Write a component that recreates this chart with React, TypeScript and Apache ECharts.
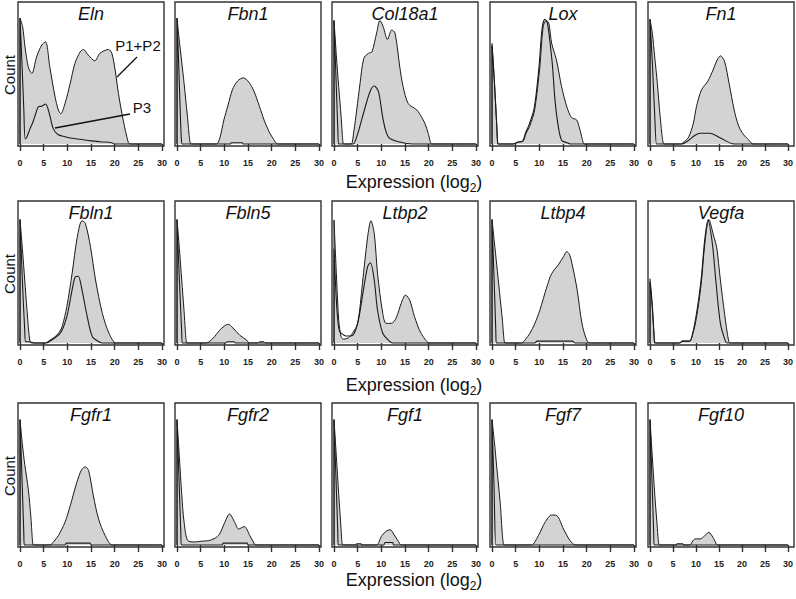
import React, { useEffect, useRef } from "react";
import * as echarts from "echarts";

const FONT = "'Liberation Sans', Arial, Helvetica, sans-serif";

const genes = ["Eln", "Fbn1", "Col18a1", "Lox", "Fn1", "Fbln1", "Fbln5", "Ltbp2", "Ltbp4", "Vegfa", "Fgfr1", "Fgfr2", "Fgf1", "Fgf7", "Fgf10"];
const xTicks = [0, 5, 10, 15, 20, 25, 30];
const xLabel = "Expression (log2)";
const yLabel = "Count";
const legendP12 = "P1+P2";
const legendP3 = "P3";

// [expression (log2), relative count] — P1+P2 (filled) and P3 (outline)
const elnP12 = [[0,0],[0,100],[0.56,93],[1.06,77],[1.76,61],[2.5,56],[3.5,69],[4.6,78.6],[5.4,81],[6.3,61],[7.4,37.5],[8.1,27],[8.6,24],[9.5,32],[10.6,48],[11.6,64],[12.7,73],[13.4,75],[14.4,70.6],[15.8,66],[16.9,72],[18.7,75],[19.4,72],[20.1,58.7],[20.8,40],[21.8,19],[22.9,1],[23.3,0],[23.6,0],[30,0]];
const elnP3 = [[0,0],[0,100],[0.4,65],[0.8,28],[1.1,4],[1.5,6],[2.1,12],[2.7,17],[3.4,25],[3.9,29.6],[4.6,30],[5.4,31.7],[6.2,24],[7.0,12.4],[8.0,7.5],[9.5,5.8],[11,4.5],[12.7,3.7],[15,2.5],[16.9,1.8],[19.4,1],[20,0],[20.3,0],[30,0]];

const fbn1P12 = [[0,0],[0,100],[0.4,85],[1.0,65],[1.5,48],[2.2,22],[2.9,0],[3.1,0],[8.2,0],[8.4,0],[9.0,4],[9.9,19],[10.8,31],[11.7,43],[12.8,50],[14.0,52.5],[15.2,49],[16.3,41.5],[17.4,30],[18.4,19],[19.3,11],[20.1,5.5],[21.3,0],[21.5,0],[30,0]];
const fbn1P3 = [[0,0],[0,100],[0.3,70],[0.6,35],[0.9,5],[1.1,0],[1.3,0],[11.3,0],[11.5,1],[13.8,1],[14,0],[30,0]];

const col18a1P12 = [[0,0],[0,98],[0.5,70],[1.0,45],[1.5,22],[2.0,0],[2.2,0],[3.5,0],[3.7,0],[4.2,10],[4.8,27],[5.5,48],[6.3,68],[7.3,72],[8.0,73],[9.0,88],[9.7,98],[10.4,93],[11.3,83],[12.2,90.5],[12.9,88],[13.9,61],[14.6,45.5],[15.7,32],[17.5,27],[18.4,22],[19.2,16.4],[19.9,8.5],[20.6,0],[20.8,0],[30,0]];
const col18a1P3 = [[0,0],[0,98],[0.4,55],[0.8,12],[0.95,0],[1.1,0],[3.9,0],[4.1,0],[5.0,8],[6.2,24],[7.6,41.5],[8.5,46],[9.4,41.5],[10.4,19],[11.5,5.5],[13.9,1.5],[16.7,0],[17,0],[30,0]];

const loxP12 = [[0,0],[0,78],[0.5,50],[1.0,15],[1.3,0],[1.5,0],[4.2,0],[4.4,0],[5.5,1.5],[6.5,2],[7.2,8.5],[7.95,14],[9.0,27],[10.1,61],[10.8,93],[11.5,98],[12.0,96],[12.6,80],[13.6,67],[14.7,45.5],[15.8,29.6],[16.8,21],[17.9,19],[18.6,11],[19.5,0],[19.7,0],[30,0]];
const loxP3 = [[0,0],[0,80],[0.5,50],[1.0,15],[1.2,0],[1.4,0],[4.2,0],[4.4,0],[5.5,1.5],[6.5,2.5],[7.1,9],[7.8,15],[8.9,28],[9.9,60],[10.6,92],[11.2,99],[11.7,96],[12.2,82.5],[12.8,61],[13.3,35],[14.0,14],[14.7,3],[15.8,1],[16.5,0],[16.8,0],[30,0]];

const fn1P12 = [[0,0],[0,99],[0.5,88],[1.0,70],[1.6,48],[2.2,22],[3.0,0],[3.2,0],[6.4,0],[6.6,0],[7.5,2],[8.4,5.5],[9.4,16],[10.1,29.6],[11.2,43],[12.6,50],[13.7,58.7],[14.6,66.7],[15.3,70],[16.2,65.6],[17.2,48],[18.3,27],[19.2,15],[20.1,8.5],[21.5,3],[22.4,0],[22.6,0],[30,0]];
const fn1P3 = [[0,0],[0,99],[0.5,65],[1.0,25],[1.4,0],[1.6,0],[6.7,0],[6.9,0],[8.4,3],[9.8,7],[10.9,8.5],[13.0,8.5],[15.4,4.5],[18.3,0],[18.5,0],[30,0]];

const fbln1P12 = [[0,0],[0,98],[0.5,75],[1.0,50],[1.5,25],[2.1,1],[2.5,0],[2.7,0],[5.1,0],[5.3,0],[6.4,2.4],[7.4,5],[8.2,8],[8.9,13],[9.9,29],[11,55],[12.1,84],[13.1,97],[13.8,95],[14.9,76],[15.96,50],[17.4,23.5],[18.8,7.7],[20.2,0],[20.4,0],[30,0]];
const fbln1P3 = [[0,0],[0,98],[0.5,50],[1.0,10],[1.2,1],[2.0,1],[3.0,0],[3.2,0],[5.3,0],[5.5,0],[6.7,2.4],[8.5,7.7],[9.9,21],[11,42],[11.7,52.6],[12.3,53],[13.1,42],[14.2,21],[15.3,5],[16.7,1],[17.5,0],[17.7,0],[30,0]];

const fbln5P12 = [[0,0],[0,98],[0.5,75],[1.0,50],[1.5,25],[2.05,0],[2.2,0],[6.0,0],[6.2,0],[7.6,3.7],[9.0,10],[10.0,13.5],[10.8,14.8],[11.8,12],[13.3,6],[14.7,2.4],[15.3,0],[17.0,0],[17.5,1],[18.3,1],[18.6,0],[30,0]];
const fbln5P3 = [[0,0],[0,98],[0.5,50],[1.0,8],[1.1,0],[1.3,0],[10.2,0],[10.6,1],[12.0,1],[12.4,0],[30,0]];

const ltbp2P12 = [[0,0],[0,97.6],[0.5,55],[1.0,18],[1.5,5],[2.0,3],[3.0,4],[3.9,7.7],[5.0,15.6],[6.0,47],[7.1,84],[7.8,97],[8.5,87],[9.2,55],[10.3,23.5],[11.0,15.6],[12.1,15.6],[13.1,19.6],[14.2,31.5],[15.1,38],[16.0,34],[17.0,21],[18.4,7.7],[20.2,0],[20.4,0],[30,0]];
const ltbp2P3 = [[0,0],[0,75],[0.4,40],[0.8,18],[1.2,9],[2.0,6.5],[2.5,5.5],[3.9,6],[5.0,15.6],[6.0,37],[7.1,60.6],[7.7,63.7],[8.5,50],[9.2,26],[10.3,7.7],[11.7,1.5],[12.4,0],[12.6,0],[30,0]];

const ltbp4P12 = [[0,0],[0,98],[0.5,80],[1.0,62],[1.6,40],[2.2,18],[2.7,0],[2.9,0],[6.05,0],[6.25,0],[7.0,2.5],[8.0,7.7],[9.0,15],[10.1,26],[11.6,44.7],[12.6,55],[14.0,62],[15.1,68.5],[15.8,72.5],[16.4,70],[16.9,63],[18.0,42],[19.0,15.6],[20.1,1.5],[20.8,0],[21,0],[30,0]];
const ltbp4P3 = [[0,0],[0,98],[0.4,55],[0.8,10],[0.9,0],[1.1,0],[9.0,0],[9.5,1.5],[17.0,1.5],[17.5,0],[30,0]];

const vegfaP12 = [[0,0],[0,48],[0.5,28],[0.9,5],[1.1,0],[1.3,0],[6.3,0],[6.5,0],[7,1.5],[8.4,1.5],[8.9,2.4],[10,18],[11.1,46],[11.9,78],[12.8,98],[13.9,84],[14.5,76],[15.3,50],[16.2,23.5],[17.1,1.5],[17.5,0],[17.7,0],[30,0]];
const vegfaP3 = [[0,0],[0,51],[0.5,30],[0.9,5],[1.0,0],[1.2,0],[6.3,0],[6.5,0],[7,1.5],[8.4,1.5],[8.9,2.4],[10,21],[11.1,50],[11.9,82],[12.6,97.6],[13.55,79],[14.3,50],[15.3,15.6],[16.4,1.5],[16.8,0],[17,0],[30,0]];

const fgfr1P12 = [[0,0],[0,99.5],[0.5,80],[1.0,64],[1.76,44],[2.3,22],[2.8,0],[3.0,0],[6.15,0],[6.35,0],[7.2,3],[8.1,7.4],[9.5,18],[10.6,31],[12,49.7],[13.05,60],[13.8,62],[14.5,59],[15.5,39],[16.6,20.6],[18,7.4],[19.4,0],[19.6,0],[30,0]];
const fgfr1P3 = [[0,0],[0,99.5],[0.4,55],[0.8,10],[0.9,0],[1.1,0],[9.5,0],[9.8,1.5],[14.8,1.5],[15,0],[30,0]];

const fgfr2P12 = [[0,0],[0,99.5],[0.5,70],[1.0,40],[1.5,18],[2.3,3.4],[3.8,2.4],[5.1,3],[6.6,3.4],[8,5.3],[9,8.7],[10.1,18],[11.1,24.6],[12.2,18],[13,12.7],[14.2,14.6],[15.4,7.4],[16.4,0.5],[16.6,0],[16.8,0],[30,0]];
const fgfr2P3 = [[0,0],[0,99.5],[0.4,55],[0.8,10],[0.9,0],[1.1,0],[9.5,0],[9.8,1.5],[14.8,1.5],[15,0],[30,0]];

const fgf1P12 = [[0,0],[0,99.5],[0.5,70],[1.0,40],[1.4,18],[1.8,0],[2.0,0],[8.85,0],[9.05,0],[10.1,7.4],[11.2,11.4],[11.9,12],[12.6,8.7],[13.5,3.4],[14.2,0],[14.4,0],[30,0]];
const fgf1P3 = [[0,0],[0,99.5],[0.4,55],[0.8,10],[0.9,0],[1.1,0],[4.6,0],[4.8,1],[5.7,1],[5.9,0],[10.5,0],[10.8,2],[12.4,2],[12.6,0],[30,0]];

const fgf7P12 = [[0,0],[0,99.5],[0.5,82],[1.0,62],[1.7,35],[2.5,0],[2.7,0],[8.2,0],[8.4,0],[9.8,7.4],[11.2,18],[12.6,23.8],[13.7,23.3],[15.1,12.7],[16.5,3.4],[17.6,0],[17.8,0],[30,0]];
const fgf7P3 = [[0,0],[0,99.5],[0.4,50],[0.8,0],[1.0,0],[30,0]];

const fgf10P12 = [[0,0],[0,99.5],[0.5,70],[1.0,42],[1.5,18],[2.0,0],[2.2,0],[8.4,0],[8.6,0],[9.8,4.8],[10.9,4.8],[11.9,7.4],[12.8,10],[13.7,6],[14.7,0],[14.9,0],[30,0]];
const fgf10P3 = [[0,0],[0,99.5],[0.4,55],[0.8,10],[0.9,0],[1.1,0],[5.7,0],[5.9,1],[7.1,1],[7.3,0],[30,0]];

const p12Series = [elnP12, fbn1P12, col18a1P12, loxP12, fn1P12, fbln1P12, fbln5P12, ltbp2P12, ltbp4P12, vegfaP12, fgfr1P12, fgfr2P12, fgf1P12, fgf7P12, fgf10P12];
const p3Series = [elnP3, fbn1P3, col18a1P3, loxP3, fn1P3, fbln1P3, fbln5P3, ltbp2P3, ltbp4P3, vegfaP3, fgfr1P3, fgfr2P3, fgf1P3, fgf7P3, fgf10P3];

// layout
const colLefts = [18, 175, 332, 490, 648];
const rowTops = [2, 201, 403];
const PW = 146;
const PH = 144;
const xLabelY = [182, 385, 580];

export default function App() {
  const ref = useRef<HTMLDivElement>(null);
  useEffect(() => {
    const chart = echarts.init(ref.current!, null, { renderer: "svg" });
    const grids: any[] = [];
    const xAxes: any[] = [];
    const yAxes: any[] = [];
    const series: any[] = [];
    const graphics: any[] = [];
    const centered = { align: "center", verticalAlign: "middle", textAlign: "center", textVerticalAlign: "middle" };
    genes.forEach((g, i) => {
      const r = Math.floor(i / 5);
      const c = i % 5;
      const L = colLefts[c];
      const T = rowTops[r];
      grids.push({ left: L + 2, top: T, width: PW - 4, height: PH, containLabel: false });
      xAxes.push({
        gridIndex: i, type: "value", min: xTicks[0], max: xTicks[xTicks.length - 1], interval: 5,
        axisLine: { show: false },
        axisTick: { show: true, length: 7, lineStyle: { color: "#333", width: 1.4 } },
        axisLabel: { margin: 12, fontSize: 9, fontWeight: "bold", color: "#222", fontFamily: FONT },
        splitLine: { show: false },
      });
      yAxes.push({ gridIndex: i, type: "value", min: -1.6, max: 112.7, show: false });
      series.push({
        type: "line", name: legendP12, xAxisIndex: i, yAxisIndex: i, data: p12Series[i],
        showSymbol: false, symbol: "none", smooth: 0.3, z: 2,
        lineStyle: { color: "#1a1a1a", width: 1 },
        areaStyle: { color: "#d3d3d3", opacity: 1 },
      });
      series.push({
        type: "line", name: legendP3, xAxisIndex: i, yAxisIndex: i, data: p3Series[i],
        showSymbol: false, symbol: "none", smooth: 0.3, z: 3,
        lineStyle: { color: "#1a1a1a", width: 1.1 },
      });
      graphics.push({
        type: "rect", z: 100, silent: true,
        shape: { x: L, y: T, width: PW, height: PH },
        style: { fill: "none", stroke: "#333", lineWidth: 1.4 },
      });
      graphics.push({
        type: "text", z: 100, silent: true, x: L + PW / 2, y: T + 12,
        style: { text: g, fontSize: 18, fontStyle: "italic", fontFamily: FONT, fill: "#111", ...centered },
      });
    });
    rowTops.forEach((T, r) => {
      graphics.push({
        type: "text", z: 100, silent: true, x: 9, y: T + 73, rotation: Math.PI / 2,
        style: { text: yLabel, fontSize: 15, fontFamily: FONT, fill: "#111", ...centered },
      });
      graphics.push({
        type: "text", z: 100, silent: true, x: 414, y: xLabelY[r],
        style: {
          text: "{a|Expression (log}{b|2}{a|)}",
          rich: {
            a: { fontSize: 18, fontFamily: FONT, fill: "#111", lineHeight: 24, verticalAlign: "middle" },
            b: { fontSize: 12, fontFamily: FONT, fill: "#111", lineHeight: 24, verticalAlign: "bottom" },
          },
          ...centered,
        },
      });
    });
    // annotation in Eln panel
    const L0 = colLefts[0];
    const T0 = rowTops[0];
    graphics.push({ type: "text", z: 100, silent: true, x: L0 + 120, y: T0 + 43, style: { text: legendP12, fontSize: 15, fontFamily: FONT, fill: "#111", ...centered } });
    graphics.push({ type: "text", z: 100, silent: true, x: L0 + 124, y: T0 + 105, style: { text: legendP3, fontSize: 15, fontFamily: FONT, fill: "#111", ...centered } });
    graphics.push({ type: "line", z: 100, silent: true, shape: { x1: L0 + 119, y1: T0 + 55, x2: L0 + 99, y2: T0 + 75 }, style: { stroke: "#111", lineWidth: 1.3 } });
    graphics.push({ type: "line", z: 100, silent: true, shape: { x1: L0 + 112, y1: T0 + 112, x2: L0 + 37, y2: T0 + 126 }, style: { stroke: "#111", lineWidth: 1.3 } });

    chart.setOption({
      animation: false,
      backgroundColor: "#ffffff",
      grid: grids,
      xAxis: xAxes,
      yAxis: yAxes,
      series,
      graphic: { elements: graphics },
    });
    return () => chart.dispose();
  }, []);
  return <div ref={ref} style={{ position: "absolute", left: 0, top: 0, width: 796, height: 599, background: "#fff" }} />;
}
